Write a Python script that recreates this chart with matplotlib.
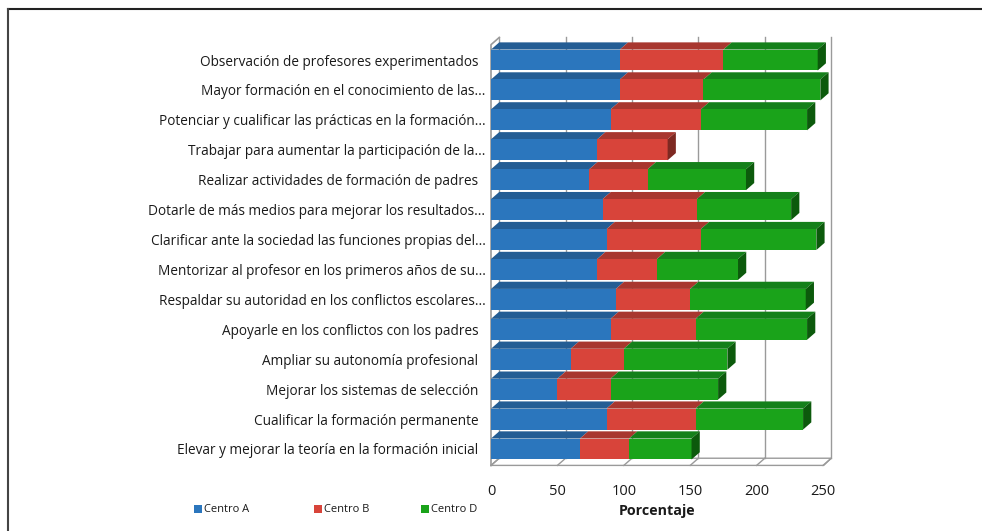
import matplotlib
matplotlib.use('Agg')
import matplotlib.pyplot as plt
from matplotlib.patches import Polygon, Rectangle

categories = [
    "Observación de profesores experimentados",
    "Mayor formación en el conocimiento de las...",
    "Potenciar y cualificar las prácticas en la formación...",
    "Trabajar para aumentar la participación de la...",
    "Realizar actividades de formación de padres",
    "Dotarle de más medios para mejorar los resultados...",
    "Clarificar ante la sociedad las funciones propias del...",
    "Mentorizar al profesor en los primeros años de su...",
    "Respaldar su autoridad en los conflictos escolares...",
    "Apoyarle en los conflictos con los padres",
    "Ampliar su autonomía profesional",
    "Mejorar los sistemas de selección",
    "Cualificar la formación permanente",
    "Elevar y mejorar la teoría en la formación inicial",
]
centro_a = [97, 97, 90, 80, 74, 84, 87, 80, 94, 90, 60, 50, 87, 67]
centro_b = [78, 63, 68, 53, 44, 71, 71, 45, 56, 64, 40, 40, 67, 37]
centro_d = [71, 88, 80, 0, 74, 71, 87, 61, 87, 84, 78, 81, 81, 47]
series_names = ["Centro A", "Centro B", "Centro D"]
xticks = [0, 50, 100, 150, 200, 250]

front_cols = ["#2b76bd", "#d8443a", "#1aa31a"]
top_cols = ["#245d94", "#a8372f", "#14801a"]
side_cols = ["#1c4a78", "#7e2922", "#0c5a0c"]

plt.rcParams['font.family'] = ['Open Sans', 'DejaVu Sans']

W, H = 982, 531
fig = plt.figure(figsize=(W / 100, H / 100), dpi=100)
px_per_unit = 1.328
ax_l, ax_r, ax_t, ax_b = 491, 842, 36, 466
ax = fig.add_axes([ax_l / W, 1 - ax_b / H, (ax_r - ax_l) / W, (ax_b - ax_t) / H])
xmax = (ax_r - ax_l) / px_per_unit
n = len(categories)
row_px = 29.9
ymin = -(ax_b - 449) / row_px
ymax = (n - 1) + (60 - ax_t) / row_px
ax.set_xlim(0, xmax)
ax.set_ylim(ymin, ymax)
for s in ax.spines.values():
    s.set_visible(False)

dx = 6.2   # depth in x units
dy = 0.24  # depth in row units
bh = 0.70
ypos = [n - 1 - i for i in range(n)]

# frame walls
grid_col = "#9a9a9a"
fy0 = ymin + 0.02
back_y0 = fy0 + dy
top_y = ymax - 0.05
# floor
ax.plot([0, 250 + 0.5, 250 + dx, dx, 0], [fy0, fy0, back_y0, back_y0, fy0], color=grid_col, lw=1.0, clip_on=False)
for v in xticks:
    ax.plot([v, v + dx], [fy0, back_y0], color=grid_col, lw=1.0, clip_on=False)
    ax.plot([v + dx, v + dx], [back_y0, top_y], color=grid_col, lw=1.0, clip_on=False, zorder=0)
# left wall
ax.plot([0, 0, dx], [fy0, top_y - dy, top_y], color=grid_col, lw=1.2, clip_on=False)

series = [centro_a, centro_b, centro_d]
for r, y in enumerate(ypos):
    left = 0
    last = None
    for k, vals in enumerate(series):
        v = vals[r]
        if v <= 0:
            continue
        ax.barh(y, v, left=left, height=bh, color=front_cols[k], edgecolor='none', zorder=3)
        top = Polygon([[left, y + bh / 2], [left + v, y + bh / 2],
                       [left + v + dx, y + bh / 2 + dy], [left + dx, y + bh / 2 + dy]],
                      closed=True, facecolor=top_cols[k], edgecolor='none', zorder=2)
        ax.add_patch(top)
        left += v
        last = k
    if last is not None:
        side = Polygon([[left, y - bh / 2], [left, y + bh / 2],
                        [left + dx, y + bh / 2 + dy], [left + dx, y - bh / 2 + dy]],
                       closed=True, facecolor=side_cols[last], edgecolor='none', zorder=3)
        ax.add_patch(side)

ax.set_yticks(ypos)
ax.set_yticklabels([c if c.endswith("...") else c + "  " for c in categories],
                   fontsize=9.8, color="#1a1a1a")
ax.set_xticks(xticks)
ax.set_xticklabels([str(v) for v in xticks], fontsize=10.5, color="#1a1a1a")
ax.tick_params(axis='both', length=0)
ax.tick_params(axis='y', pad=4)
ax.tick_params(axis='x', pad=13)

fig.text(657 / W, 1 - 511 / H, "Porcentaje", fontsize=10.3, fontweight='bold',
         ha='center', va='center', color="#1a1a1a")

# legend
leg_x = [197, 317, 424]
for k, name in enumerate(series_names):
    fig.patches.append(Rectangle(((leg_x[k] - 3) / W, 1 - 513 / H), 8 / W, 8 / H,
                                 transform=fig.transFigure, facecolor=front_cols[k],
                                 edgecolor='none'))
    fig.text((leg_x[k] + 7) / W, 1 - 509 / H, name, fontsize=8.0, ha='left', va='center',
             color="#1a1a1a")

# outer frame (top and left lines)
fig.add_artist(plt.Line2D([8 / W, 1], [1 - 9 / H, 1 - 9 / H], transform=fig.transFigure,
                          color="#222222", lw=1.5))
fig.add_artist(plt.Line2D([8 / W, 8 / W], [0, 1 - 9 / H], transform=fig.transFigure,
                          color="#444444", lw=1.5))

fig.savefig("out.png", dpi=100)
